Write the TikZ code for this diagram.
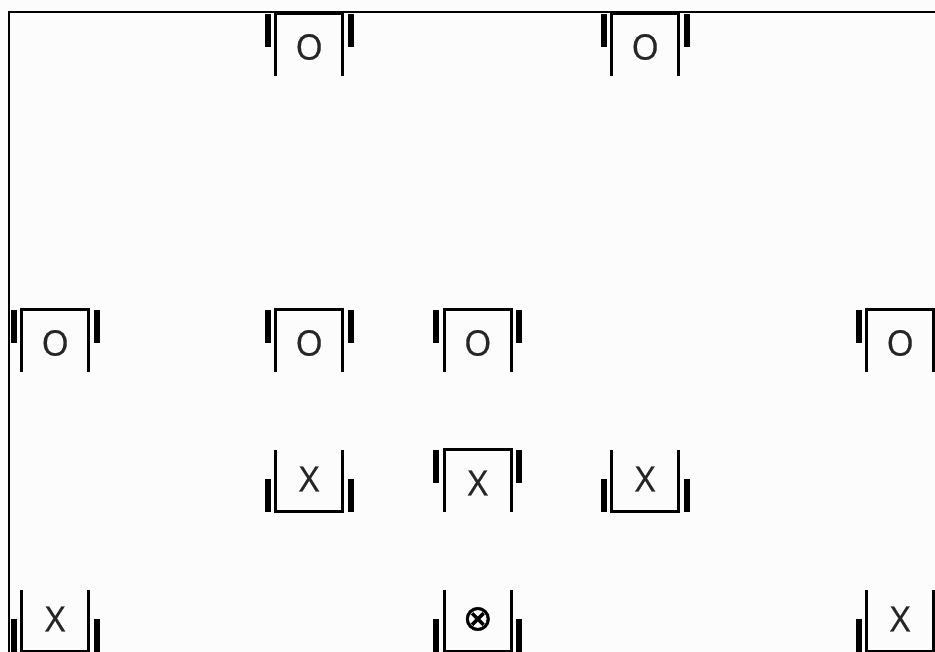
\documentclass[tikz,border=0pt]{standalone}
\usepackage{fontspec}
\newfontfamily\markfont[FakeBold=0.4]{Open Sans}
\newfontfamily\symfont[FakeBold=1.2]{DejaVu Sans}
\tikzset{
  wall/.style={draw=black,line width=3pt,line cap=butt,line join=miter},
  frameline/.style={draw=black,line width=2pt},
  bar/.style={fill=black,draw=none},
  mark label/.style={inner sep=0pt,text=black!85,font=\markfont\fontsize{35}{35}\selectfont},
  sym label/.style={inner sep=0pt,text=black,font=\symfont\fontsize{36}{36}\selectfont}
}
% top-closed unit: #1 left wall x, #2 top y, #3 name, #4 style, #5 text, #6 text y offset
\newcommand{\unitdown}[6]{%
  \draw[wall] (#1,#2+62) -- (#1,#2) -- (#1+67,#2) -- (#1+67,#2+62);
  \fill[bar] (#1-11,#2) rectangle (#1-5,#2+33);
  \fill[bar] (#1+72,#2) rectangle (#1+78,#2+33);
  \node[#4] (#3) at (#1+33.5,#2+#6) {#5};
}
% bottom-closed unit
\newcommand{\unitup}[6]{%
  \draw[wall] (#1,#2) -- (#1,#2+61.5) -- (#1+67,#2+61.5) -- (#1+67,#2);
  \fill[bar] (#1-11,#2+29) rectangle (#1-5,#2+62);
  \fill[bar] (#1+72,#2+29) rectangle (#1+78,#2+62);
  \node[#4] (#3) at (#1+33.5,#2+#6) {#5};
}
\begin{document}
\begin{tikzpicture}[x=1pt,y=-1pt]
\useasboundingbox (0,0) rectangle (935,652);
\fill[white!99!black] (0,0) rectangle (935,652);
\coordinate (fa) at (9,652);
\coordinate (fb) at (9,12);
\coordinate (fc) at (935,12);
\draw[frameline] (fa) -- (fb) -- (fc);
\unitdown{275.7}{14}{o1}{mark label}{O}{33}
\unitdown{611.7}{14}{o2}{mark label}{O}{33}
\unitdown{21.7}{310}{o3}{mark label}{O}{33}
\unitdown{275.7}{310}{o4}{mark label}{O}{33}
\unitdown{444.3}{310}{o5}{mark label}{O}{33}
\unitdown{866.7}{310}{o6}{mark label}{O}{33}
\unitup{275.7}{450}{x1}{mark label}{X}{29}
\unitdown{444.3}{449.5}{x2}{mark label}{X}{33.5}
\unitup{611.7}{450}{x3}{mark label}{X}{29}
\unitup{21.7}{590}{x4}{mark label}{X}{29}
\unitup{444.3}{590}{x5}{sym label}{⊗}{29}
\unitup{866.7}{590}{x6}{mark label}{X}{29}
\end{tikzpicture}
\end{document}
